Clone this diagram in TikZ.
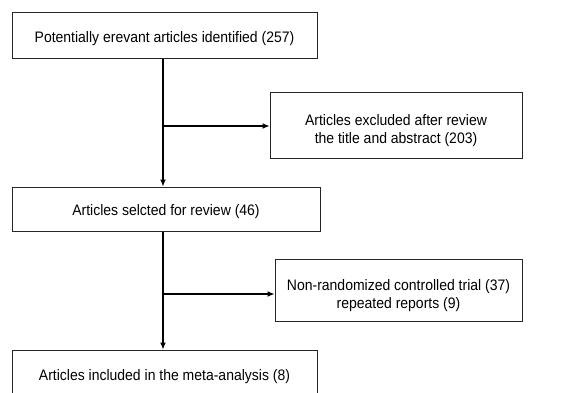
\documentclass[tikz,border=0pt]{standalone}
\usepackage{fontspec}
\setmainfont{Liberation Sans}[FakeStretch=0.92]
\usepackage{tikz}
\usetikzlibrary{positioning, arrows.meta}

\begin{document}
\begin{tikzpicture}[
        x=1pt, y=1pt,
        every node/.style={font=\fontsize{15.2}{18}\selectfont},
        stage/.style={draw=black!85, line width=1pt, minimum height=45pt, align=center, inner sep=2pt, text height=16.5pt},
        excluded/.style={draw=black!85, line width=1pt, align=center, inner sep=2pt, text height=40pt},
        arrow/.style={-{Latex[length=7pt, width=6pt]}, line width=1.1pt}
    ]
    \useasboundingbox (0,0) rectangle (565,392);
    \clip (0,0) rectangle (565,392);

    % Nodes
    \node[stage, minimum width=305pt] (identified) at (164.5,356.5) {Potentially erevant articles identified (257)};
    \node[excluded, minimum width=252pt, minimum height=66pt] (titleabs) at (396,267) {Articles excluded after review\\the title and abstract (203)};
    \node[stage, minimum width=308pt, minimum height=44pt] (selected) at (166,183) {Articles selcted for review (46)};
    \node[excluded, minimum width=247pt, minimum height=62pt] (nonrct) at (398.5,102) {Non-randomized controlled trial (37)\\repeated reports (9)};
    \node[stage, minimum width=305pt, minimum height=48pt] (included) at (164.5,18) {Articles included in the meta-analysis (8)};
    \coordinate (split1) at (163,266);
    \coordinate (split2) at (163,98);

    % Arrows
    \draw[arrow] (identified.south -| split1) -- (selected.north -| split1);
    \draw[arrow] (split1) -- (titleabs.west |- split1);
    \draw[arrow] (selected.south -| split2) -- (included.north -| split2);
    \draw[arrow] (split2) -- (nonrct.west |- split2);

\end{tikzpicture}
\end{document}
